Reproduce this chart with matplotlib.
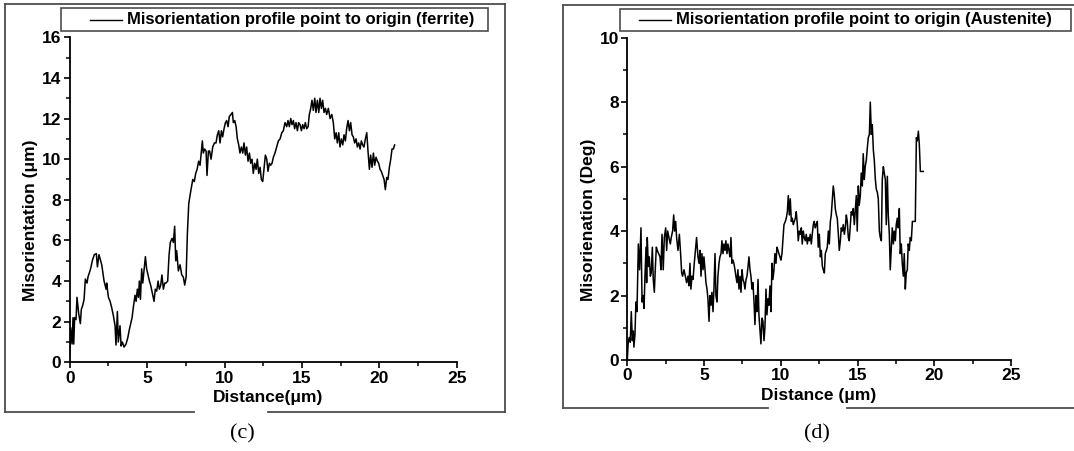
import matplotlib.pyplot as plt
from matplotlib.lines import Line2D
from matplotlib.patches import Rectangle
from matplotlib.ticker import MultipleLocator

# ferrite profile (c)
fer_x = [0, 0.065, 0.15, 0.215, 0.26, 0.32, 0.41, 0.47, 0.58, 0.69, 0.75, 0.84, 0.93, 1.01,
         1.12, 1.18, 1.31, 1.38, 1.46, 1.59, 1.72, 1.79, 1.89, 2.07, 2.22, 2.35, 2.39, 2.50,
         2.61, 2.71, 2.82, 2.93, 2.99, 3.08, 3.14, 3.25, 3.32, 3.40, 3.51, 3.64, 3.75, 3.85,
         3.94, 4.03, 4.11, 4.22, 4.29, 4.37, 4.44, 4.50, 4.57, 4.65, 4.72, 4.80, 4.89, 4.97,
         5.06, 5.15, 5.23, 5.34, 5.45, 5.53, 5.62, 5.71, 5.79, 5.88, 5.96, 6.05, 6.14, 6.22,
         6.33, 6.42, 6.50, 6.61, 6.70, 6.78, 6.85, 6.91, 7.02, 7.13, 7.24, 7.34, 7.43, 7.52,
         7.60, 7.69, 7.77, 7.86, 7.95, 8.05, 8.14, 8.23, 8.33, 8.42, 8.51, 8.57, 8.63, 8.72,
         8.81, 8.87, 8.96, 9.04, 9.13, 9.24, 9.35, 9.45, 9.54, 9.63, 9.71, 9.80, 9.88, 9.97,
         10.06, 10.14, 10.23, 10.31, 10.42, 10.51, 10.57, 10.66, 10.75, 10.83, 10.92, 11.00,
         11.09, 11.18, 11.26, 11.35, 11.43, 11.52, 11.61, 11.69, 11.78, 11.86, 11.95, 12.04,
         12.12, 12.21, 12.30, 12.38, 12.47, 12.55, 12.64, 12.73, 12.81, 12.90, 12.98, 13.07,
         13.16, 13.26, 13.37, 13.48, 13.59, 13.70, 13.80, 13.91, 14.02, 14.10, 14.19, 14.28,
         14.36, 14.45, 14.53, 14.62, 14.71, 14.79, 14.88, 14.97, 15.05, 15.14, 15.22, 15.31,
         15.40, 15.48, 15.57, 15.65, 15.74, 15.83, 15.91, 16.00, 16.09, 16.17, 16.26, 16.34,
         16.43, 16.52, 16.60, 16.71, 16.82, 16.93, 17.03, 17.12, 17.21, 17.29, 17.38, 17.46,
         17.55, 17.64, 17.72, 17.81, 17.89, 17.98, 18.07, 18.15, 18.24, 18.32, 18.41, 18.50,
         18.58, 18.67, 18.76, 18.84, 18.93, 19.01, 19.10, 19.19, 19.27, 19.36, 19.44, 19.53,
         19.62, 19.70, 19.79, 19.88, 19.96, 20.05, 20.13, 20.22, 20.31, 20.39, 20.48, 20.56,
         20.65, 20.74, 20.82, 20.91, 20.99]
fer_y = [0.3, 1.7, 0.9, 2.2, 0.9, 2.2, 2.1, 3.2, 2.4, 1.9, 2.6, 2.8, 3.1, 4.1,
         3.9, 4.2, 4.5, 4.7, 5.0, 5.3, 5.35, 4.7, 5.3, 4.8, 4.0, 3.6, 3.9, 3.2,
         3.0, 2.7, 2.3, 1.8, 0.85, 2.5, 1.0, 1.8, 0.8, 1.0, 0.75, 0.9, 1.2, 1.6,
         1.9, 2.2, 2.7, 3.3, 3.0, 3.6, 3.2, 4.0, 3.1, 4.6, 3.9, 4.5, 5.2, 4.6,
         4.3, 4.0, 3.8, 3.4, 3.0, 3.6, 3.5, 4.0, 3.6, 3.8, 4.3, 3.6, 3.9, 3.9,
         4.0, 5.3, 5.9, 6.1, 5.9, 6.7, 5.0, 5.5, 4.5, 4.8, 4.3, 4.2, 3.8, 4.2,
         6.3, 7.8, 8.2, 8.6, 9.0, 8.9, 9.3, 9.5, 9.9, 9.7, 10.4, 10.9, 10.3, 10.5,
         10.4, 9.2, 10.4, 10.4, 10.0, 10.6, 10.8, 10.8, 11.2, 11.4, 10.8, 11.4, 11.1, 11.5,
         11.8, 11.9, 11.6, 12.1, 12.2, 12.3, 11.8, 11.9, 11.6, 11.0, 10.7, 10.3,
         10.6, 10.3, 10.8, 10.2, 10.6, 9.9, 10.3, 9.8, 10.0, 9.3, 9.8, 9.5,
         10.0, 9.3, 9.6, 9.0, 8.9, 9.5, 10.2, 10.0, 9.4, 9.8, 9.7, 9.8,
         10.1, 10.3, 10.6, 10.9, 11.0, 11.3, 11.4, 11.8, 11.6, 11.9, 11.6, 12.0,
         11.7, 11.9, 11.5, 11.8, 11.4, 11.8, 11.7, 11.4, 11.7, 11.5, 11.8, 11.5,
         11.6, 12.2, 12.5, 12.9, 12.4, 13.0, 12.3, 12.9, 12.3, 13.0, 12.5, 12.9,
         12.3, 12.5, 12.2, 12.5, 12.0, 12.2, 11.8, 11.0, 11.3, 10.8, 11.3, 10.6,
         11.0, 10.7, 11.2, 10.9, 11.5, 11.9, 11.4, 11.8, 11.2, 11.1, 10.8, 11.0,
         10.6, 10.8, 10.5, 10.9, 10.7, 10.6, 11.0, 11.3, 10.4, 9.5, 10.2, 9.6,
         10.3, 9.7, 10.1, 9.9, 9.8, 9.5, 9.4, 9.2, 9.0, 8.5, 9.1, 9.0,
         9.6, 10.0, 10.5, 10.5, 10.7]

# austenite profile (d)
aus_x = [0, 0.065, 0.13, 0.195, 0.26, 0.33, 0.39, 0.43, 0.50, 0.56, 0.63, 0.72, 0.80, 0.89,
         0.96, 1.02, 1.09, 1.15, 1.22, 1.26, 1.30, 1.37, 1.43, 1.50, 1.56, 1.63, 1.69, 1.76,
         1.82, 1.89, 1.95, 2.04, 2.13, 2.19, 2.26, 2.34, 2.41, 2.50, 2.56, 2.63, 2.71, 2.80,
         2.86, 2.95, 3.02, 3.08, 3.15, 3.21, 3.30, 3.39, 3.47, 3.54, 3.60, 3.69, 3.78, 3.86,
         3.95, 4.01, 4.08, 4.14, 4.21, 4.28, 4.36, 4.45, 4.51, 4.60, 4.67, 4.73, 4.80, 4.86,
         4.93, 4.99, 5.06, 5.12, 5.19, 5.25, 5.32, 5.38, 5.45, 5.51, 5.58, 5.64, 5.71, 5.77,
         5.84, 5.90, 5.97, 6.03, 6.10, 6.16, 6.23, 6.29, 6.36, 6.42, 6.49, 6.55, 6.62, 6.68,
         6.75, 6.81, 6.88, 6.94, 7.01, 7.07, 7.14, 7.20, 7.27, 7.34, 7.40, 7.47, 7.53, 7.60,
         7.66, 7.73, 7.79, 7.86, 7.92, 7.99, 8.05, 8.12, 8.18, 8.25, 8.31, 8.38, 8.44, 8.51,
         8.57, 8.64, 8.70, 8.77, 8.83, 8.90, 8.96, 9.03, 9.09, 9.16, 9.22, 9.29, 9.35, 9.42,
         9.48, 9.55, 9.61, 9.68, 9.74, 9.81, 9.87, 9.94, 10.00, 10.07, 10.13, 10.20, 10.29,
         10.35, 10.42, 10.48, 10.55, 10.61, 10.68, 10.74, 10.81, 10.87, 10.94, 11.00, 11.07,
         11.13, 11.20, 11.26, 11.33, 11.39, 11.46, 11.52, 11.59, 11.65, 11.72, 11.78, 11.85,
         11.91, 11.98, 12.04, 12.11, 12.17, 12.24, 12.30, 12.37, 12.43, 12.50, 12.57, 12.63,
         12.70, 12.76, 12.83, 12.89, 12.96, 13.02, 13.09, 13.15, 13.22, 13.28, 13.35, 13.41,
         13.48, 13.54, 13.61, 13.67, 13.74, 13.80, 13.87, 13.93, 14.00, 14.06, 14.13, 14.19,
         14.26, 14.32, 14.39, 14.45, 14.52, 14.58, 14.65, 14.71, 14.78, 14.84, 14.91, 14.97,
         15.04, 15.10, 15.17, 15.23, 15.30, 15.36, 15.43, 15.49, 15.56, 15.63, 15.69, 15.76,
         15.82, 15.89, 15.95, 16.02, 16.08, 16.15, 16.21, 16.28, 16.34, 16.41, 16.47, 16.54,
         16.60, 16.67, 16.73, 16.80, 16.86, 16.93, 16.99, 17.06, 17.12, 17.19, 17.25, 17.32,
         17.38, 17.45, 17.51, 17.58, 17.64, 17.71, 17.77, 17.84, 17.90, 17.97, 18.03, 18.10,
         18.16, 18.23, 18.29, 18.36, 18.42, 18.49, 18.56, 18.62, 18.69, 18.75, 18.82, 18.88,
         18.95, 19.01, 19.08, 19.14, 19.27]
aus_y = [0.0, 0.6, 0.7, 0.55, 1.5, 0.6, 0.9, 0.4, 0.8, 1.8, 1.5, 3.6, 2.8, 4.1,
         1.8, 2.0, 1.6, 2.6, 3.5, 2.4, 3.8, 2.9, 3.2, 2.6, 2.7, 3.5, 2.5, 2.1,
         2.8, 3.5, 3.4, 3.3, 3.2, 2.8, 3.9, 2.8, 3.8, 4.1, 3.4, 4.0, 3.8, 3.6,
         3.8, 4.0, 4.5, 4.0, 4.3, 3.8, 3.4, 3.9, 3.3, 2.7, 2.6, 2.8, 2.6, 2.4,
         2.6, 2.3, 3.0, 2.2, 2.6, 2.5, 3.0, 3.5, 3.8, 3.2, 3.0, 3.4, 2.6, 3.3,
         2.8, 3.2, 2.8, 2.4, 2.2, 1.9, 1.2, 2.0, 1.7, 2.1, 1.5, 2.2, 3.3, 2.0,
         1.8, 2.6, 3.0, 3.2, 3.3, 3.7, 3.3, 3.6, 3.4, 3.7, 3.3, 3.6, 3.4, 3.2,
         3.8, 3.0, 3.1, 3.0, 2.8, 2.6, 2.4, 2.8, 2.2, 2.6, 2.1, 2.8, 2.5, 2.4,
         2.2, 2.5, 2.6, 2.9, 3.2, 2.8, 2.6, 2.2, 2.4, 1.8, 1.1, 2.0, 1.5, 2.5,
         1.4, 0.9, 0.5, 1.3, 1.2, 0.6, 1.0, 2.2, 1.4, 1.9, 1.7, 2.3, 1.5, 3.0,
         2.5, 2.8, 3.3, 3.0, 3.5, 3.4, 3.3, 3.2, 3.1, 3.3, 3.7, 4.2, 4.3,
         4.4, 4.6, 5.1, 4.5, 5.0, 4.3, 4.4, 4.2, 4.3, 4.4, 4.6, 4.2,
         3.7, 4.0, 3.9, 4.1, 3.6, 4.0, 3.8, 3.7, 3.9, 3.6, 3.8, 3.7,
         3.9, 3.6, 3.9, 4.2, 4.3, 4.1, 4.2, 4.3, 3.5, 3.9, 3.2, 3.4,
         2.9, 2.8, 2.7, 3.3, 3.4, 3.5, 4.0, 3.6, 4.3, 4.5, 5.0, 5.4,
         5.1, 4.7, 4.5, 4.4, 3.9, 3.4, 3.7, 4.1, 4.0, 4.2, 3.9, 4.1,
         4.5, 4.3, 3.8, 3.7, 4.2, 4.6, 4.5, 4.7, 4.2, 4.6, 5.1, 4.0,
         5.4, 4.8, 5.1, 5.8, 5.4, 6.4, 5.6, 6.0, 6.2, 6.6, 6.9, 7.0,
         8.0, 7.0, 7.3, 6.5, 6.2, 5.6, 5.3, 5.2, 5.0, 4.0, 3.8, 3.7,
         5.6, 6.0, 5.8, 5.6, 4.2, 5.7, 4.5, 3.9, 2.8, 3.5, 4.1, 3.6,
         4.0, 3.7, 4.2, 4.4, 4.1, 4.7, 3.3, 3.6, 3.0, 2.6, 3.3, 2.2,
         2.7, 2.8, 3.6, 3.4, 3.8, 3.7, 4.3, 4.3, 4.3, 4.3, 6.9, 6.8,
         7.1, 6.7, 5.85, 5.85, 5.85]

W, H = 1074, 451
plt.rcParams['font.family'] = 'Liberation Sans'
plt.rcParams['font.weight'] = 'bold'

fig = plt.figure(figsize=(W / 100, H / 100), dpi=100)
frame_c = '#4d4d4d'


def fx(x):
    return x / W


def fy(y):
    return 1 - y / H


def seg(x0, y0, x1, y1, lw=1.3, c=frame_c):
    fig.add_artist(Line2D([fx(x0), fx(x1)], [fy(y0), fy(y1)],
                          transform=fig.transFigure, color=c, lw=lw))


def make_axes(l, r, t, b):
    ax = fig.add_axes([fx(l), fy(b), (r - l) / W, (b - t) / H])
    ax.spines['top'].set_visible(False)
    ax.spines['right'].set_visible(False)
    for s in ('left', 'bottom'):
        ax.spines[s].set_linewidth(1.3)
    ax.tick_params(which='major', direction='out', length=4.5, width=1.2,
                   labelsize=12.5, pad=1.5)
    ax.tick_params(which='minor', direction='out', length=3, width=1.1)
    ax.set_xlim(0, 25)
    ax.xaxis.set_major_locator(MultipleLocator(5))
    ax.xaxis.set_minor_locator(MultipleLocator(2.5))
    ax.yaxis.set_minor_locator(MultipleLocator(1))
    ax.yaxis.set_major_locator(MultipleLocator(2))
    return ax


def legend_box(l, r, t, b, lx0, lx1, tx, label):
    fig.add_artist(Rectangle((fx(l), fy(b)), (r - l) / W, (b - t) / H,
                             transform=fig.transFigure, fill=False,
                             edgecolor=frame_c, lw=1.2))
    ym = (t + b) / 2
    seg(lx0, ym, lx1, ym, lw=1, c='black')
    fig.text(fx(tx), fy(ym), label, fontsize=12, fontweight='bold',
             va='center', ha='left')


# ---- (c) ferrite ----
seg(5, 4, 505, 4)
seg(5, 4, 5, 412)
seg(505, 4, 505, 412)
seg(5, 412, 194, 412)
seg(268, 412, 505, 412)

ax1 = make_axes(69.7, 456.7, 37.3, 362.3)
ax1.plot(fer_x, fer_y, color='black', lw=1.1)
ax1.set_ylim(0, 16)
ax1.set_xlabel('Distance(μm)', fontsize=12.5, fontweight='bold')
ax1.set_ylabel('Misorientation (μm)', fontsize=12.5, fontweight='bold')
ax1.xaxis.set_label_coords(0.512, -0.085)
ax1.yaxis.set_label_coords(-0.082, 0.438)
legend_box(61, 488, 8, 31, 90, 122, 127,
           'Misorientation profile point to origin (ferrite)')
fig.text(fx(242), fy(434), '(c)', fontsize=16, family='Liberation Serif',
         fontweight='normal', ha='center', va='center')

# ---- (d) austenite ----
seg(563.3, 5.3, 1080, 5.3)
seg(563.3, 5.3, 563.3, 408.3)
seg(563.3, 408.3, 768, 408.3)
seg(847, 408.3, 1080, 408.3)

ax2 = make_axes(627.3, 1011.3, 37.7, 360)
ax2.plot(aus_x, aus_y, color='black', lw=1.1)
ax2.set_ylim(0, 10)
ax2.set_xlabel('Distance (μm)', fontsize=12.5, fontweight='bold')
ax2.set_ylabel('Misorienation (Deg)', fontsize=12.5, fontweight='bold')
ax2.xaxis.set_label_coords(0.499, -0.088)
ax2.yaxis.set_label_coords(-0.082, 0.434)
legend_box(620, 1071, 9, 30.7, 639, 671, 676,
           'Misorientation profile point to origin (Austenite)')
fig.text(fx(817), fy(434), '(d)', fontsize=16, family='Liberation Serif',
         fontweight='normal', ha='center', va='center')

fig.savefig('out.png', dpi=100)
